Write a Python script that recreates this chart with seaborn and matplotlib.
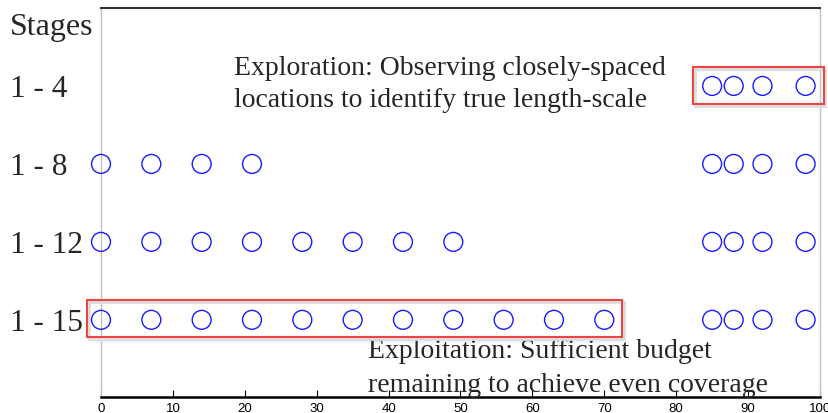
import matplotlib
matplotlib.use("Agg")
import matplotlib.pyplot as plt
import seaborn as sns
import pandas as pd
from matplotlib.patches import Rectangle

stages = ["1 - 4", "1 - 8", "1 - 12", "1 - 15"]
locs_1_4 = [85, 88, 92, 98]
locs_1_8 = [0, 7, 14, 21, 85, 88, 92, 98]
locs_1_12 = [0, 7, 14, 21, 28, 35, 42, 49, 85, 88, 92, 98]
locs_1_15 = [0, 7, 14, 21, 28, 35, 42, 49, 56, 63, 70, 85, 88, 92, 98]
xticks = [0, 10, 20, 30, 40, 50, 60, 70, 80, 90, 100]

rows = []
for i, locs in enumerate([locs_1_4, locs_1_8, locs_1_12, locs_1_15]):
    for x in locs:
        rows.append({"x": x, "row": i})
df = pd.DataFrame(rows)

sns.set_style("white")
serif = ["Liberation Serif", "DejaVu Serif"]

W, H = 829, 413
fig = plt.figure(figsize=(W/100, H/100), dpi=100)
ax = fig.add_axes([101/W, 1-397/H, (820-101)/W, (397-8)/H])

sns.scatterplot(data=df, x="x", y="row", ax=ax, marker="o", s=185,
                facecolors="none", edgecolor="#1a1aff", linewidth=1.0, legend=False,
                clip_on=False, zorder=6)

ax.set_xlim(0, 100)
ax.set_ylim(3.99, -1.0)
ax.set_xlabel("")
ax.set_ylabel("")
ax.set_xticks(xticks)
ax.set_xticklabels([str(t) for t in xticks], fontsize=9.5,
                   family=["Liberation Sans", "DejaVu Sans"])
ax.tick_params(axis="x", direction="in", length=5, width=0.8, pad=4, bottom=True, colors="black")
ax.set_yticks(range(len(stages)))
ax.set_yticklabels(stages, fontsize=22.5, family=serif, ha="left", va="center_baseline")
ax.tick_params(axis="y", length=0, pad=91*0.72)

for s in ["left", "right"]:
    ax.spines[s].set_color("#c0c0c0")
    ax.spines[s].set_linewidth(1.0)
ax.spines["top"].set_color("#333333")
ax.spines["top"].set_linewidth(1.5)
ax.spines["bottom"].set_color("black")
ax.spines["bottom"].set_linewidth(1.8)

fig.text(10/W, 1-35/H, "Stages", fontsize=23, family=serif, va="baseline", ha="left")

# annotation boxes (data coordinates)
def box(x0, x1, y0, y1):
    ax.add_patch(Rectangle((x0 + 0.25, y0 + 0.03), x1 - x0, y1 - y0, fill=False,
                           edgecolor="#dddddd", linewidth=2.0, clip_on=False, zorder=4))
    ax.add_patch(Rectangle((x0, y0), x1 - x0, y1 - y0, fill=False,
                           edgecolor="#ee4444", linewidth=1.5, clip_on=False, zorder=5))

box(82.3, 100.5, -0.244, 0.23)
box(-1.95, 72.5, 2.74, 3.22)

ax.text(18.5, -0.141, "Exploration: Observing closely-spaced", fontsize=20, family=serif,
        ha="left", va="baseline")
ax.text(18.5, 0.27, "locations to identify true length-scale", fontsize=20, family=serif,
        ha="left", va="baseline")
ax.text(37.1, 3.49, "Exploitation: Sufficient budget", fontsize=20, family=serif,
        ha="left", va="baseline", clip_on=False)
ax.text(37.1, 3.92, "remaining to achieve even coverage", fontsize=20, family=serif,
        ha="left", va="baseline", clip_on=False, zorder=7)

fig.savefig("out.png", dpi=100)
